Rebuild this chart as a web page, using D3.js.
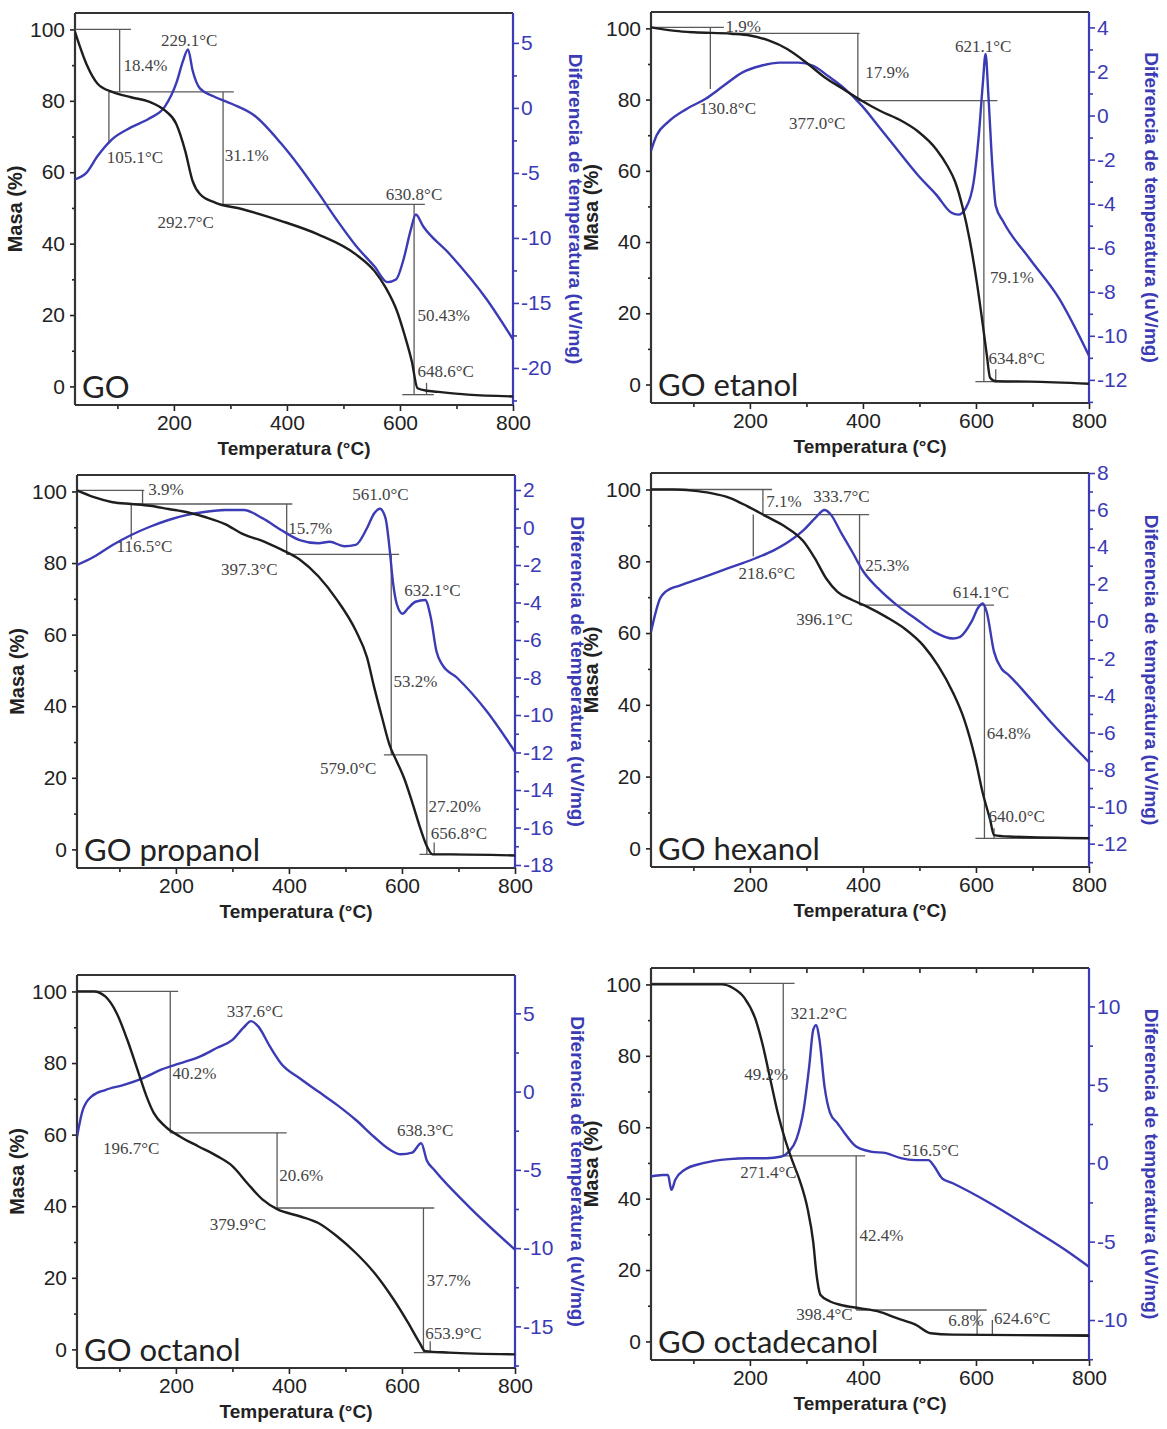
<!DOCTYPE html>
<html>
<head>
<meta charset="utf-8">
<script src="https://cdnjs.cloudflare.com/ajax/libs/d3/7.8.5/d3.min.js"></script>
<style>
  body { margin: 0; background: #fff; }
</style>
</head>
<body>
<div id="chart"></div>
<script>
// ---- data: [temperature °C, value] ----
const tempDomain = [25, 800];
const massDomain = [-5.2, 104.6];
const tempTicks = [200, 400, 600, 800];
const massTicks = [0, 20, 40, 60, 80, 100];
const panelNames = ["GO", "GO etanol", "GO propanol", "GO hexanol", "GO octanol", "GO octadecanol"];

// GO
const goTga = [[25,99.3],[45,90.4],[65,84.8],[91,82.5],[124,81],[157,79.7],[184,77.3],[204,73.6],[220,66],[233,57.6],[246,53.9],[273,51.5],[320,49.7],[389,46.4],[455,42.6],[522,37],[555,32.3],[575,27.6],[595,21],[608,14.5],[621,7],[631,-0.5],[648,-1.2],[660,-1.4],[720,-2.3],[800,-2.8]];
const goDta = [[25,-5.5],[45,-5],[65,-3.7],[91,-2.4],[124,-1.5],[157,-0.8],[184,0.1],[205,2.0],[216,3.6],[225,4.5],[233,2.9],[246,1.5],[270,0.9],[303,0.3],[343,-0.6],[389,-2.7],[422,-4.5],[455,-6.5],[488,-8.6],[522,-10.6],[555,-12.2],[578,-13.4],[593,-13.2],[606,-11.7],[619,-9.4],[628,-8.2],[641,-9.1],[687,-11.2],[753,-14.7],[800,-17.8]];
const goDtaRange = [-22.85, 7.3];
const goDtaTicks = [-20, -15, -10, -5, 0, 5];
const goLines = [[25,100,124,100],[104,100,104,82.5],[85,82.5,306,82.5],[85,82.5,85,68],[287,82.5,287,51],[287,51,644,51],[625,51,625,-2.3],[604,-2.3,660,-2.3],[647,-2.3,647,1]];
const goLabels = [["18.4%",111,90],["229.1°C",177,97],["105.1°C",81,64.2],["31.1%",290,64.7],["292.7°C",171,46],["630.8°C",575,53.9],["50.43%",631,20.1],["648.6°C",631,4.2]];

// GO etanol
const etanolTga = [[25,100.3],[68,99.3],[101,98.9],[167,98.5],[200,98],[233,96.6],[266,94.2],[299,90.5],[332,86.3],[365,83],[398,79.7],[431,76.8],[464,74.4],[497,71.1],[530,66],[550,61.2],[563,57],[576,50],[589,40.5],[602,28.2],[612,16.9],[619,8.5],[625,1.9],[635,0.9],[695,0.8],[800,0.2]];
const etanolDta = [[25,-1.6],[35,-0.9],[55,-0.3],[88,0.3],[121,0.75],[154,1.36],[187,1.96],[220,2.26],[253,2.4],[286,2.4],[312,2.26],[338,1.8],[365,1.28],[398,0.45],[431,-0.6],[464,-1.66],[497,-2.7],[530,-3.6],[556,-4.4],[569,-4.5],[582,-4.2],[596,-3.0],[605,-0.9],[612,1.4],[617,2.8],[622,0.9],[629,-2.3],[635,-4.1],[648,-4.8],[695,-6.5],[747,-8.3],[800,-10.9]];
const etanolDtaRange = [-13.05, 4.7];
const etanolDtaTicks = [-12, -10, -8, -6, -4, -2, 0, 2, 4];
const etanolLines = [[25,100.3,154,100.3],[130,100.3,130,83],[130,98.6,394,98.6],[391,98.6,391,79.7],[391,79.7,638,79.7],[614,79.7,614,0.9],[599,0.8,660,0.8],[635,0.9,635,4.3]];
const etanolLabels = [["1.9%",157,100.7],["130.8°C",111,77.7],["17.9%",404,87.6],["377.0°C",269,73.4],["621.1°C",563,95.1],["79.1%",625,30.1],["634.8°C",622,7.5]];

// GO propanol
const propanolTga = [[25,100.3],[55,98.4],[88,97],[121,96.5],[154,96],[187,95.1],[220,94.2],[253,92.8],[287,90.9],[320,88],[353,86.2],[386,83.8],[419,81],[452,76.3],[485,69.7],[518,61.2],[538,53.7],[551,45.2],[565,36.7],[578,29.2],[591,24.5],[604,19.8],[618,13.2],[631,6.6],[644,0.9],[654,-1.4],[684,-1.4],[800,-1.7]];
const propanolDta = [[25,-2],[55,-1.56],[88,-0.93],[121,-0.4],[154,0.04],[187,0.4],[220,0.67],[253,0.84],[287,0.93],[320,0.93],[353,0.5],[386,-0.13],[419,-0.67],[452,-0.84],[472,-0.76],[498,-1.0],[518,-0.93],[538,-0.04],[551,0.76],[561,1.0],[571,0.49],[578,-1.1],[584,-2.9],[591,-4.1],[601,-4.6],[611,-4.3],[624,-3.96],[641,-3.87],[651,-4.8],[661,-6.6],[671,-7.3],[697,-8.0],[750,-9.8],[800,-11.96]];
const propanolDtaRange = [-18.16, 2.8];
const propanolDtaTicks = [-18, -16, -14, -12, -10, -8, -6, -4, -2, 0, 2];
const propanolLines = [[25,100.3,144,100.3],[141,100.3,141,96.5],[121,96.5,406,96.5],[121,96.5,121,86.6],[396,96.5,396,82.4],[396,82.4,595,82.4],[581,82.4,581,26.4],[568,26.4,644,26.4],[644,26.4,644,-1.4],[631,-1.4,700,-1.4],[657,-1.4,657,1.9]];
const propanolLabels = [["3.9%",151,100.8],["116.5°C",95,84.7],["15.7%",399,89.9],["397.3°C",280,78.2],["561.0°C",512,99.3],["632.1°C",604,72.5],["53.2%",585,47.1],["579.0°C",455,22.6],["27.20%",647,12.2],["656.8°C",651,4.7]];

// GO hexanol
const hexanolTga = [[25,100],[65,100],[98,99.7],[131,99],[164,97.7],[196,95.3],[229,92.5],[262,89.7],[295,85.5],[315,80.8],[335,75.2],[355,71.5],[381,69.2],[408,67.3],[441,64.5],[474,61.2],[507,56.5],[533,50.9],[559,43.5],[579,36],[599,24.8],[612,15.4],[625,8],[632,3.7],[658,3.3],[800,2.8]];
const hexanolDta = [[25,-0.57],[41,1.23],[51,1.6],[78,1.95],[111,2.3],[144,2.67],[177,3.03],[210,3.4],[243,3.84],[269,4.3],[295,4.92],[315,5.55],[332,6.0],[342,5.8],[361,4.8],[381,3.75],[401,2.67],[427,1.77],[460,0.87],[493,0.15],[526,-0.57],[559,-0.93],[572,-0.84],[592,-0.03],[605,0.78],[612,0.96],[619,0.5],[632,-1.65],[645,-2.55],[658,-2.9],[691,-4.0],[737,-5.6],[800,-7.6]];
const hexanolDtaRange = [-13.26, 8.0];
const hexanolDtaTicks = [-12, -10, -8, -6, -4, -2, 0, 2, 4, 6, 8];
const hexanolLines = [[25,100,239,100],[223,100,223,93],[223,93,411,93],[206,93,206,81.3],[394,93,394,67.8],[394,67.8,632,67.8],[615,67.8,615,2.8],[599,2.8,800,2.8],[632,2.8,632,5.6]];
const hexanolLabels = [["7.1%",229,96.7],["333.7°C",312,98.1],["218.6°C",180,76.6],["25.3%",404,79],["396.1°C",282,64],["614.1°C",559,71.5],["64.8%",619,32.2],["640.0°C",622,8.9]];

// GO octanol
const octanolTga = [[25,100],[55,100],[75,98.6],[95,94],[114,86.5],[134,77.2],[148,70.7],[161,66],[181,62.3],[207,59.5],[240,56.7],[273,54],[300,51.2],[326,46.5],[353,41.9],[380,39.1],[419,37.2],[452,35.3],[485,31.6],[518,27],[551,21.4],[585,14],[611,7.4],[631,1.9],[641,-0.5],[684,-0.9],[800,-1.4]];
const octanolDta = [[25,-2.9],[35,-1.2],[51,-0.3],[75,0.1],[108,0.43],[141,0.85],[174,1.4],[207,1.8],[240,2.2],[273,2.8],[300,3.3],[320,4.1],[333,4.5],[346,4.15],[366,2.9],[386,1.8],[419,0.85],[452,0],[485,-0.85],[518,-1.8],[551,-2.9],[578,-3.7],[598,-4.0],[618,-3.9],[634,-3.3],[644,-4.4],[657,-5.0],[717,-7.3],[800,-10.1]];
const octanolDtaRange = [-17.66, 7.45];
const octanolDtaTicks = [-15, -10, -5, 0, 5];
const octanolLines = [[25,100,204,100],[190,100,190,60.5],[190,60.5,396,60.5],[379,60.5,379,39.5],[379,39.5,657,39.5],[638,39.5,638,-0.9],[621,-0.9,700,-0.9],[650,-0.9,650,2.3]];
const octanolLabels = [["40.2%",194,77.2],["337.6°C",290,94.4],["196.7°C",71,56.3],["20.6%",383,48.8],["379.9°C",260,34.9],["638.3°C",591,61.4],["37.7%",644,19.5],["653.9°C",641,4.7]];

// GO octadecanol
const octadecanolTga = [[25,100],[98,100],[150,100],[170,99],[190,96.3],[210,90.2],[223,82.8],[236,73.5],[249,64.2],[262,56.7],[276,50.2],[289,44.7],[302,37.2],[312,27.9],[318,18.6],[325,13],[342,11.2],[361,10.2],[394,9.3],[427,8.4],[460,6.5],[493,4.7],[520,2.3],[559,1.9],[800,1.6]];
const octadecanolDta = [[25,-0.85],[45,-0.75],[55,-0.75],[61,-1.7],[68,-1.06],[84,-0.43],[117,0],[163,0.26],[196,0.32],[229,0.32],[256,0.43],[269,0.74],[282,1.5],[295,3.4],[305,6.2],[312,8.5],[317,8.8],[323,7.9],[332,4.9],[342,3.2],[355,2.55],[368,1.9],[388,1.06],[414,0.74],[441,0.64],[467,0.32],[493,0.2],[516,0.2],[526,-0.2],[540,-0.96],[559,-1.28],[625,-2.55],[691,-4.0],[757,-5.5],[800,-6.6]];
const octadecanolDtaRange = [-12.55, 12.45];
const octadecanolDtaTicks = [-10, -5, 0, 5, 10];
const octadecanolLines = [[25,100.3,279,100.3],[259,100.3,259,52],[259,52,404,52],[388,52,388,8.8],[388,8.8,619,8.8],[602,8.8,602,1.9],[586,1.9,800,1.9],[629,1.9,629,6]];
const octadecanolLabels = [["49.2%",190,74.9],["321.2°C",272,92.1],["271.4°C",183,47.4],["42.4%",394,29.8],["398.4°C",282,7.6],["6.8%",551,6],["624.6°C",632,6.5],["516.5°C",470,53.5]];

// ---- panels (layout boxes: left, top, width, height) ----
const panels = [
  {name: panelNames[0], tga: goTga, dta: goDta, range: goDtaRange, ticks: goDtaTicks, minorStep: 2.5, lines: goLines, labels: goLabels, box: [75, 13, 438, 392]},
  {name: panelNames[1], tga: etanolTga, dta: etanolDta, range: etanolDtaRange, ticks: etanolDtaTicks, minorStep: 1, lines: etanolLines, labels: etanolLabels, box: [651, 12, 438, 391]},
  {name: panelNames[2], tga: propanolTga, dta: propanolDta, range: propanolDtaRange, ticks: propanolDtaTicks, minorStep: 1, lines: propanolLines, labels: propanolLabels, box: [77, 475, 438, 393]},
  {name: panelNames[3], tga: hexanolTga, dta: hexanolDta, range: hexanolDtaRange, ticks: hexanolDtaTicks, minorStep: 1, lines: hexanolLines, labels: hexanolLabels, box: [651, 473, 438, 394]},
  {name: panelNames[4], tga: octanolTga, dta: octanolDta, range: octanolDtaRange, ticks: octanolDtaTicks, minorStep: 2.5, lines: octanolLines, labels: octanolLabels, box: [77, 975, 438, 393]},
  {name: panelNames[5], tga: octadecanolTga, dta: octadecanolDta, range: octadecanolDtaRange, ticks: octadecanolDtaTicks, minorStep: 2.5, lines: octadecanolLines, labels: octadecanolLabels, box: [651, 968, 438, 392], topTicks: true}
];

const blue = "#3b3bb5";
const ink = "#222";

const svg = d3.select("#chart").append("svg")
  .attr("width", 1167)
  .attr("height", 1429)
  .style("font-family", "'Liberation Sans', Arial, sans-serif");

panels.forEach((p, i) => drawPanel(p, i));

function drawPanel(p, i) {
  const [left, top, w, h] = p.box;
  const g = svg.append("g").attr("transform", `translate(${left},${top})`);

  const x = d3.scaleLinear().domain(tempDomain).range([0, w]);
  const yM = d3.scaleLinear().domain(massDomain).range([h, 0]);
  const yD = d3.scaleLinear().domain(p.range).range([h, 0]);

  g.append("clipPath").attr("id", "clip" + i)
    .append("rect").attr("width", w).attr("height", h);

  // minor tick values
  const massMinor = d3.range(10, 100, 20);
  const tempMinor = d3.range(100, 800, 200);
  const dtaMinor = d3.range(Math.ceil(p.range[0] / p.minorStep) * p.minorStep, p.range[1], p.minorStep)
    .filter(v => !p.ticks.some(t => Math.abs(t - v) < 1e-6));

  const styleAxis = (sel, color) => {
    sel.select(".domain").remove();
    sel.selectAll("line").attr("stroke", color).attr("stroke-width", 1.6);
    sel.selectAll("text").attr("fill", color).style("font-size", "21px")
      .style("font-family", "'Liberation Sans', Arial, sans-serif");
  };

  // left axis
  g.append("g").call(d3.axisLeft(yM).tickValues(massTicks).tickSize(5).tickPadding(5))
    .call(s => styleAxis(s, ink));
  g.append("g").call(d3.axisLeft(yM).tickValues(massMinor).tickSize(3).tickFormat(""))
    .call(s => styleAxis(s, ink));

  // bottom axis
  g.append("g").attr("transform", `translate(0,${h})`)
    .call(d3.axisBottom(x).tickValues(tempTicks).tickSize(6).tickPadding(4))
    .call(s => styleAxis(s, ink));
  g.append("g").attr("transform", `translate(0,${h})`)
    .call(d3.axisBottom(x).tickValues(tempMinor).tickSize(4).tickFormat(""))
    .call(s => styleAxis(s, ink));

  if (p.topTicks) {
    g.append("g")
      .call(d3.axisBottom(x).tickValues(d3.range(100, 800, 100)).tickSize(5).tickFormat(""))
      .call(s => styleAxis(s, ink));
  }

  // right axis
  g.append("g").attr("transform", `translate(${w},0)`)
    .call(d3.axisRight(yD).tickValues(p.ticks).tickSize(6).tickPadding(2).tickFormat(d => String(d)))
    .call(s => styleAxis(s, blue));
  g.append("g").attr("transform", `translate(${w},0)`)
    .call(d3.axisRight(yD).tickValues(dtaMinor).tickSize(4).tickFormat(""))
    .call(s => styleAxis(s, blue));

  // frame
  g.append("line").attr("x1", 0).attr("x2", w).attr("y1", 0).attr("y2", 0)
    .attr("stroke", "#333").attr("stroke-width", 2.2);
  g.append("line").attr("x1", 0).attr("x2", w).attr("y1", h).attr("y2", h)
    .attr("stroke", "#333").attr("stroke-width", 2.2);
  g.append("line").attr("x1", 0).attr("x2", 0).attr("y1", 0).attr("y2", h)
    .attr("stroke", "#333").attr("stroke-width", 2.2);
  g.append("line").attr("x1", w).attr("x2", w).attr("y1", 0).attr("y2", h)
    .attr("stroke", blue).attr("stroke-width", 2.2);

  // annotation lines
  g.append("g").selectAll("line")
    .data(p.lines)
    .join("line")
    .attr("x1", d => x(d[0])).attr("y1", d => yM(d[1]))
    .attr("x2", d => x(d[2])).attr("y2", d => yM(d[3]))
    .attr("stroke", "#5a5a5a").attr("stroke-width", 1.3);

  const curves = g.append("g").attr("clip-path", `url(#clip${i})`);

  // DTA curve (blue, right axis)
  curves.append("path")
    .datum(p.dta)
    .attr("fill", "none")
    .attr("stroke", blue)
    .attr("stroke-width", 2.4)
    .attr("stroke-linejoin", "round")
    .attr("d", d3.line().x(d => x(d[0])).y(d => yD(d[1])).curve(d3.curveMonotoneX));

  // TGA curve (black, left axis)
  curves.append("path")
    .datum(p.tga)
    .attr("fill", "none")
    .attr("stroke", "#1e1e1e")
    .attr("stroke-width", 2.4)
    .attr("stroke-linejoin", "round")
    .attr("d", d3.line().x(d => x(d[0])).y(d => yM(d[1])).curve(d3.curveMonotoneX));

  // annotation labels
  g.append("g").selectAll("text")
    .data(p.labels)
    .join("text")
    .attr("x", d => x(d[1]))
    .attr("y", d => yM(d[2]))
    .attr("dy", "0.35em")
    .attr("fill", "#444")
    .style("font-family", "'Liberation Serif', 'Times New Roman', serif")
    .style("font-size", "17px")
    .text(d => d[0]);

  // panel name
  g.append("text")
    .attr("x", 7)
    .attr("y", h - 7)
    .attr("fill", ink)
    .style("font-family", "Lato, 'Open Sans', sans-serif")
    .style("font-size", "31px")
    .text(p.name);

  // axis titles
  g.append("text")
    .attr("transform", `translate(${-53},${h / 2}) rotate(-90)`)
    .attr("text-anchor", "middle")
    .attr("fill", ink)
    .style("font-weight", "bold")
    .style("font-size", "20px")
    .text("Masa (%)");

  g.append("text")
    .attr("x", w / 2)
    .attr("y", h + 50)
    .attr("text-anchor", "middle")
    .attr("fill", ink)
    .style("font-weight", "bold")
    .style("font-size", "19px")
    .text("Temperatura (°C)");

  g.append("text")
    .attr("transform", `translate(${w + 56},${h / 2}) rotate(90)`)
    .attr("text-anchor", "middle")
    .attr("fill", blue)
    .style("font-weight", "bold")
    .style("font-size", "19px")
    .text("Diferencia de temperatura (uV/mg)");
}
</script>
</body>
</html>
